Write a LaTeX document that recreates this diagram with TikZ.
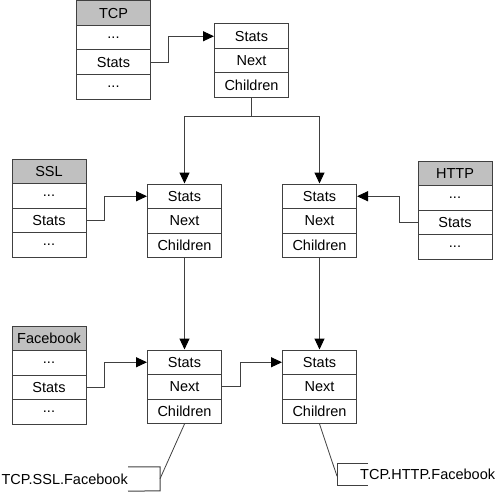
\documentclass[tikz,border=0pt]{standalone}
\usepackage{fontspec}
\setmainfont{Liberation Sans}
\usetikzlibrary{arrows.meta,calc}
\definecolor{hdrgray}{HTML}{C0C0C0}
\definecolor{linegray}{HTML}{404040}
\begin{document}
\begin{tikzpicture}[x=1pt,y=-1pt,
  every node/.style={font=\fontsize{14.5}{17}\selectfont},
  cell/.style={draw=linegray, line width=1pt, fill=white, minimum width=74pt, minimum height=24.5pt, inner sep=0pt, anchor=center},
  hdr/.style={cell, fill=hdrgray},
  conn/.style={draw=linegray, line width=1pt},
  arr/.style={conn, -{Triangle[length=11pt,width=10pt,black]}},
  lbl/.style={inner sep=0pt, minimum height=24pt}]
\useasboundingbox (0,0) rectangle (502,492);
% TCP table
\node[hdr]  (tcpH) at (113.5,13.25) {TCP};
\node[cell] (tcpA) at (113.5,37.75) {...};
\node[cell] (tcpS) at (113.5,62.25) {Stats};
\node[cell] (tcpB) at (113.5,86.75) {...};
% top stats box
\node[cell] (T1) at (251.5,36.25) {Stats};
\node[cell] (T2) at (251.5,60.75) {Next};
\node[cell] (T3) at (251.5,85.25) {Children};
% SSL table
\node[hdr]  (sslH) at (49,171.25) {SSL};
\node[cell] (sslA) at (49,195.75) {...};
\node[cell] (sslS) at (49,220.25) {Stats};
\node[cell] (sslB) at (49,244.75) {...};
% HTTP table
\node[hdr]  (httpH) at (455,173.25) {HTTP};
\node[cell] (httpA) at (455,197.75) {...};
\node[cell] (httpS) at (455,222.25) {Stats};
\node[cell] (httpB) at (455,246.75) {...};
% middle boxes
\node[cell] (ML1) at (184.5,196.25) {Stats};
\node[cell] (ML2) at (184.5,220.75) {Next};
\node[cell] (ML3) at (184.5,245.25) {Children};
\node[cell] (MR1) at (319.5,196.25) {Stats};
\node[cell] (MR2) at (319.5,220.75) {Next};
\node[cell] (MR3) at (319.5,245.25) {Children};
% Facebook table
\node[hdr]  (fbH) at (49,338.25) {Facebook};
\node[cell] (fbA) at (49,362.75) {...};
\node[cell] (fbS) at (49,387.25) {Stats};
\node[cell] (fbB) at (49,411.75) {...};
% bottom boxes
\node[cell] (BL1) at (184.5,362.25) {Stats};
\node[cell] (BL2) at (184.5,386.75) {Next};
\node[cell] (BL3) at (184.5,411.25) {Children};
\node[cell] (BR1) at (319.5,362.25) {Stats};
\node[cell] (BR2) at (319.5,386.75) {Next};
\node[cell] (BR3) at (319.5,411.25) {Children};
% connectors
\draw[arr] (tcpS.east) -- ++(17,0) |- (T1.west);
\draw[conn] (T3.south) -- ++(0,18.5) coordinate (split);
\draw[arr] (split) -| (ML1.north);
\draw[arr] (split) -| (MR1.north);
\draw[arr] (sslS.east) -- ++(18,0) |- (ML1.west);
\draw[arr] (httpS.west) -- ++(-18,0) |- (MR1.east);
\draw[arr] (ML3.south) -- (BL1.north);
\draw[arr] (MR3.south) -- (BR1.north);
\draw[arr] (fbS.east) -- ++(18,0) |- (BL1.west);
\draw[arr] (BL2.east) -- ++(18,0) |- (BR1.west);
% callouts
\node[lbl, anchor=east] (lblSSL) at (128,479) {TCP.SSL.Facebook};
\draw[conn] (lblSSL.north east) -- ++(32,0) coordinate (bsA) -- ++(0,24) coordinate (bsB) -- (lblSSL.south east);
\coordinate (bsM) at ($(bsA)!0.5!(bsB)$);
\draw[conn, line width=0.8pt] (BL3.south) -- (bsM);
\node[lbl, anchor=west] (lblHTTP) at (360,474) {TCP.HTTP.Facebook};
\coordinate (bhA) at (337,463);
\coordinate (bhB) at (337,485);
\draw[conn] (368,463) -- (bhA) -- (bhB) -- (368,485);
\coordinate (bhM) at ($(bhA)!0.6!(bhB)$);
\draw[conn, line width=0.8pt] (BR3.south) -- (bhM);
\end{tikzpicture}
\end{document}
